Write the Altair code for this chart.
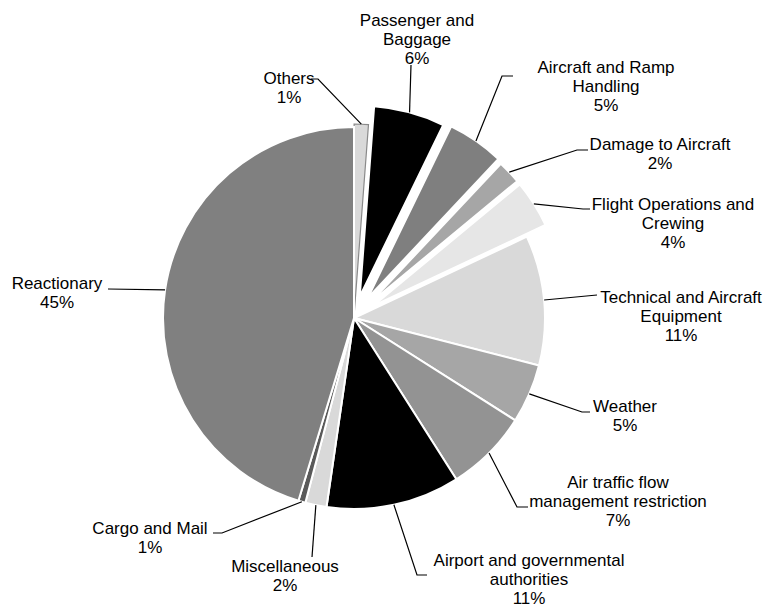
import math
import altair as alt
import pandas as pd

# ---------------- data ----------------
categories = [
    "Others",
    "Passenger and Baggage",
    "Aircraft and Ramp Handling",
    "Damage to Aircraft",
    "Flight Operations and Crewing",
    "Technical and Aircraft Equipment",
    "Weather",
    "Air traffic flow management restriction",
    "Airport and governmental authorities",
    "Miscellaneous",
    "Cargo and Mail",
    "Reactionary",
]
shares = [1.2, 6.0, 4.8, 2.0, 4.0, 11.0, 5.0, 7.0, 11.3, 1.8, 0.6, 45.3]
label_lines = [
    "Others",
    "Passenger and\nBaggage",
    "Aircraft and Ramp\nHandling",
    "Damage to Aircraft",
    "Flight Operations and\nCrewing",
    "Technical and Aircraft\nEquipment",
    "Weather",
    "Air traffic flow\nmanagement restriction",
    "Airport and governmental\nauthorities",
    "Miscellaneous",
    "Cargo and Mail",
    "Reactionary",
]

# ---------------- style / layout ----------------
fills = ["#d9d9d9", "#000000", "#7f7f7f", "#a6a6a6", "#e6e6e6", "#d9d9d9",
         "#a6a6a6", "#939393", "#000000", "#d9d9d9", "#595959", "#808080"]
explode = [3, 22, 24, 22, 22, 0, 0, 0, 0, 0, 0, 0]
CX, CY, R = 354, 318, 191
# centre of the first text line of each label
label_anchor = [(289, 79), (417, 21), (606, 68), (660, 145), (673, 205), (681, 298),
                (625, 407), (618, 483), (529, 561), (285, 567), (150, 529), (57, 284)]
leader_bends = [
    [(318, 79), (311, 79)],
    [(411, 65)],
    [(502, 76), (513, 76)],
    [(577, 150), (588, 150)],
    [(583, 209), (590, 209)],
    [(597, 295)],
    [(582, 412), (590, 412)],
    [(517, 507), (528, 507)],
    [(417, 575), (427, 575)],
    [(312, 557)],
    [(222, 533), (213, 533)],
    [(108, 289)],
]

# ---------------- derived tables ----------------
pie_rows, line_rows, text_rows = [], [], []
cum = 0.0
for i, (cat, v) in enumerate(zip(categories, shares)):
    start, end = cum, cum + v
    cum = end
    mid = (start + end) / 2 / 100 * 2 * math.pi
    d = explode[i]
    cx = CX + d * math.sin(mid)
    cy = CY - d * math.cos(mid)
    pie_rows.append({"category": cat, "start": start, "end": end, "cx": cx, "cy": cy})
    sx = CX + (R + d) * math.sin(mid)
    sy = CY - (R + d) * math.cos(mid)
    pts = [(sx, sy)] + leader_bends[i]
    for k, (px, py) in enumerate(pts):
        line_rows.append({"category": cat, "pt": k, "x": px, "y": py})
    lx, ly = label_anchor[i]
    text_rows.append({"category": cat, "text": f"{label_lines[i]}\n{round(v)}%", "x": lx, "y": ly})

pie_df = pd.DataFrame(pie_rows)
line_df = pd.DataFrame(line_rows)
text_df = pd.DataFrame(text_rows)

is_others = alt.datum.category == "Others"

arcs = alt.Chart(pie_df).mark_arc(radius=R).encode(
    theta=alt.Theta("start:Q", scale=alt.Scale(domain=[0, 100], range=[0, 2 * math.pi]), stack=None),
    theta2="end:Q",
    x=alt.X("cx:Q", scale=None, axis=None),
    y=alt.Y("cy:Q", scale=None, axis=None),
    color=alt.Color("category:N", scale=alt.Scale(domain=categories, range=fills), legend=None),
    stroke=alt.condition(is_others, alt.value("#8a8a8a"), alt.value("#ffffff")),
    strokeWidth=alt.condition(is_others, alt.value(1.2), alt.value(2)),
)

leaders = alt.Chart(line_df).mark_line(color="#000000", strokeWidth=1.2).encode(
    x=alt.X("x:Q", scale=None, axis=None),
    y=alt.Y("y:Q", scale=None, axis=None),
    detail="category:N",
    order="pt:Q",
)

labels = alt.Chart(text_df).mark_text(
    font="Liberation Sans", fontSize=17, lineHeight=19, align="center",
    baseline="middle", lineBreak="\n", color="#000000",
).encode(
    x=alt.X("x:Q", scale=None, axis=None),
    y=alt.Y("y:Q", scale=None, axis=None),
    text="text:N",
)

chart = alt.layer(arcs, leaders, labels).properties(
    width=766, height=608, padding=0, autosize=alt.AutoSizeParams(type="none"),
    background="#ffffff",
).configure_view(stroke=None)

chart.save("out.html", embed_options={"renderer": "svg", "actions": False})
